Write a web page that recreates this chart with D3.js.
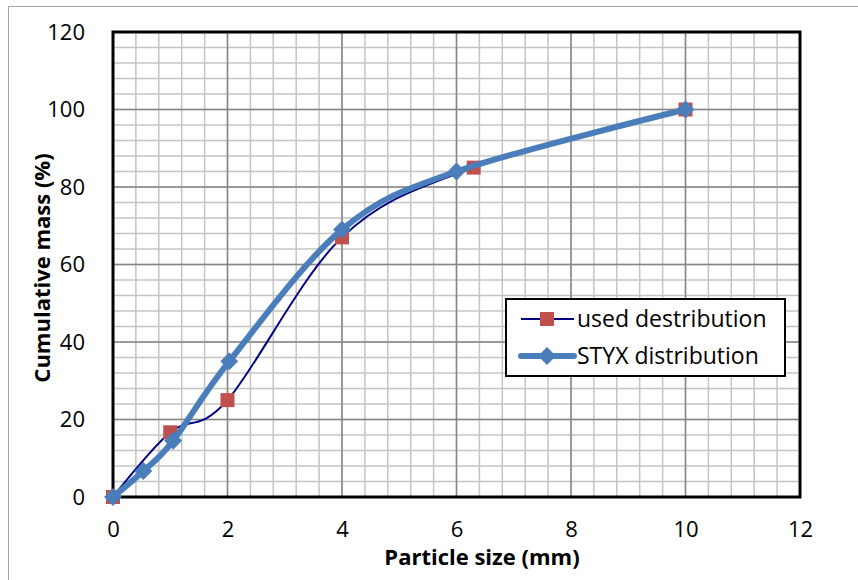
<!DOCTYPE html>
<html>
<head>
<meta charset="utf-8">
<script src="https://cdn.jsdelivr.net/npm/d3@7/dist/d3.min.js"></script>
<style>
  body { margin: 0; background: #fff; }
  text { font-family: "Open Sans", "Liberation Sans", sans-serif; }
</style>
</head>
<body>
<div id="chart"></div>
<script>
// data
var usedX = [0, 1, 2, 4, 6.3, 10]
var usedY = [0, 16.7, 25, 67, 85, 100]
var styxX = [0, 0.53, 1.05, 2.03, 4, 6, 10]
var styxY = [0, 6.7, 14.5, 35, 69, 84, 100]
var xTicks = [0, 2, 4, 6, 8, 10, 12]
var yTicks = [0, 20, 40, 60, 80, 100, 120]

var W = 858, H = 580
var margin = {top: 32, right: 58, bottom: 83, left: 113},
    width = W - margin.left - margin.right,
    height = H - margin.top - margin.bottom;

var svg = d3.select("#chart").append("svg")
    .attr("width", W)
    .attr("height", H)

// outer chart border
svg.append("rect")
    .attr("x", 8.5).attr("y", 6.5)
    .attr("width", 900).attr("height", 700)
    .attr("fill", "none")
    .attr("stroke", "#a6a6a6")
    .attr("stroke-width", 1)

var g = svg.append("g")
    .attr("transform", "translate(" + margin.left + "," + margin.top + ")");

var x = d3.scaleLinear().domain([0, 12]).range([0, width])
var y = d3.scaleLinear().domain([0, 120]).range([height, 0])

// minor grid
g.append("g")
  .selectAll("line")
  .data(d3.range(0, 12.001, 0.4))
  .enter().append("line")
    .attr("x1", function(d) { return x(d) })
    .attr("x2", function(d) { return x(d) })
    .attr("y1", 0).attr("y2", height)
    .attr("stroke", "#c4c4c4").attr("stroke-width", 1.5)
g.append("g")
  .selectAll("line")
  .data(d3.range(0, 120.001, 4))
  .enter().append("line")
    .attr("y1", function(d) { return y(d) })
    .attr("y2", function(d) { return y(d) })
    .attr("x1", 0).attr("x2", width)
    .attr("stroke", "#c4c4c4").attr("stroke-width", 1.5)

// major grid
g.append("g")
  .selectAll("line")
  .data(xTicks)
  .enter().append("line")
    .attr("x1", function(d) { return x(d) })
    .attr("x2", function(d) { return x(d) })
    .attr("y1", 0).attr("y2", height)
    .attr("stroke", "#868686").attr("stroke-width", 1.5)
g.append("g")
  .selectAll("line")
  .data(yTicks)
  .enter().append("line")
    .attr("y1", function(d) { return y(d) })
    .attr("y2", function(d) { return y(d) })
    .attr("x1", 0).attr("x2", width)
    .attr("stroke", "#868686").attr("stroke-width", 1.5)

// plot frame
g.append("rect")
    .attr("x", 0).attr("y", 0)
    .attr("width", width).attr("height", height)
    .attr("fill", "none")
    .attr("stroke", "#000")
    .attr("stroke-width", 3)

// axes (labels only)
var xAxis = g.append("g")
    .attr("transform", "translate(0," + height + ")")
    .call(d3.axisBottom(x).tickValues(xTicks).tickSize(0).tickPadding(24))
xAxis.select(".domain").remove()
xAxis.selectAll("text").attr("font-size", "22px").attr("fill", "#000")
    .style("font-family", "'Open Sans', sans-serif")

var yAxis = g.append("g")
    .call(d3.axisLeft(y).tickValues(yTicks).tickSize(0).tickPadding(28))
yAxis.select(".domain").remove()
yAxis.selectAll("text").attr("font-size", "22px").attr("fill", "#000")
    .style("font-family", "'Open Sans', sans-serif")

// axis titles
svg.append("text")
    .attr("x", 482)
    .attr("y", 565)
    .attr("text-anchor", "middle")
    .attr("font-size", "22px")
    .attr("font-weight", "bold")
    .text("Particle size (mm)")
svg.append("text")
    .attr("transform", "translate(50,268) rotate(-90)")
    .attr("text-anchor", "middle")
    .attr("font-size", "22px")
    .attr("font-weight", "bold")
    .text("Cumulative mass (%)")

var used = usedX.map(function(d, i) { return {x: d, y: usedY[i]} })
var styx = styxX.map(function(d, i) { return {x: d, y: styxY[i]} })

var line = d3.line()
    .x(function(d) { return x(d.x) })
    .y(function(d) { return y(d.y) })
    .curve(d3.curveCardinal.tension(0))

// used destribution line
g.append("path")
    .datum(used)
    .attr("fill", "none")
    .attr("stroke", "#000080")
    .attr("stroke-width", 2)
    .attr("d", line)

// used destribution markers
g.selectAll(".sq")
    .data(used)
    .enter().append("rect")
    .attr("class", "sq")
    .attr("x", function(d) { return x(d.x) - 7 })
    .attr("y", function(d) { return y(d.y) - 7 })
    .attr("width", 14).attr("height", 14)
    .attr("fill", "#c0504d")

// STYX line
g.append("path")
    .datum(styx)
    .attr("fill", "none")
    .attr("stroke", "#4a7ebb")
    .attr("stroke-width", 6)
    .attr("d", line)

var diamond = d3.symbol().type(d3.symbolSquare).size(160)
g.selectAll(".dm")
    .data(styx)
    .enter().append("path")
    .attr("class", "dm")
    .attr("d", diamond)
    .attr("transform", function(d) { return "translate(" + x(d.x) + "," + y(d.y) + ") rotate(45)" })
    .attr("fill", "#4a7ebb")

// legend
var lg = svg.append("g").attr("transform", "translate(506,299)")
lg.append("rect")
    .attr("width", 279).attr("height", 77)
    .attr("fill", "#fff")
    .attr("stroke", "#000")
    .attr("stroke-width", 2)
lg.append("line")
    .attr("x1", 15).attr("x2", 68).attr("y1", 20).attr("y2", 20)
    .attr("stroke", "#000080").attr("stroke-width", 2)
lg.append("rect")
    .attr("x", 34).attr("y", 13).attr("width", 14).attr("height", 14)
    .attr("fill", "#c0504d")
lg.append("text")
    .attr("x", 71).attr("y", 28)
    .attr("font-size", "23px")
    .text("used destribution")
lg.append("line")
    .attr("x1", 15).attr("x2", 68).attr("y1", 57).attr("y2", 57)
    .attr("stroke", "#4a7ebb").attr("stroke-width", 6)
    .attr("stroke-linecap", "round")
lg.append("path")
    .attr("d", diamond)
    .attr("transform", "translate(41,57) rotate(45)")
    .attr("fill", "#4a7ebb")
lg.append("text")
    .attr("x", 71).attr("y", 65)
    .attr("font-size", "23px")
    .text("STYX distribution")
</script>
</body>
</html>
